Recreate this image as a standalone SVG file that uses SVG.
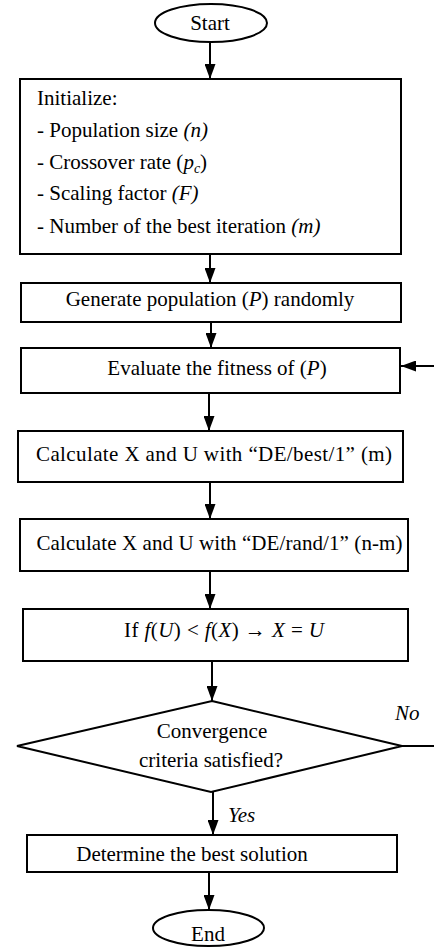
<svg xmlns="http://www.w3.org/2000/svg" width="434" height="951" viewBox="0 0 434 951">
<style>
.s{fill:#fff;stroke:#000;stroke-width:2}
text{font-family:'Liberation Serif','Times New Roman',serif;font-size:21px;fill:#000}
.m{text-anchor:middle}
.i{font-style:italic}
.c{fill:none;stroke:#000;stroke-width:2}
</style>
<defs>
<marker id="ah" markerUnits="userSpaceOnUse" markerWidth="15" markerHeight="11" refX="15" refY="5.5" orient="auto">
<path d="M0,0 L15,5.5 L0,11 z" fill="#000"/>
</marker>
</defs>
<rect width="434" height="951" fill="#fff"/>
<g id="connectors">
<line class="c" x1="210" y1="42" x2="210" y2="79" marker-end="url(#ah)"/>
<line class="c" x1="210" y1="254" x2="210" y2="283" marker-end="url(#ah)"/>
<line class="c" x1="211" y1="322" x2="211" y2="348" marker-end="url(#ah)"/>
<line class="c" x1="209" y1="394" x2="209" y2="431" marker-end="url(#ah)"/>
<line class="c" x1="210" y1="482" x2="210" y2="519" marker-end="url(#ah)"/>
<line class="c" x1="210" y1="571" x2="210" y2="609" marker-end="url(#ah)"/>
<line class="c" x1="212" y1="661" x2="212" y2="701" marker-end="url(#ah)"/>
<line class="c" x1="213" y1="792" x2="213" y2="835" marker-end="url(#ah)"/>
<line class="c" x1="209" y1="872" x2="209" y2="910" marker-end="url(#ah)"/>
<line class="c" x1="402" y1="746" x2="434" y2="746"/>
<line class="c" x1="434" y1="366" x2="401" y2="366" marker-end="url(#ah)"/>
<text class="i" x="395" y="720">No</text>
<text class="i" x="228" y="822">Yes</text>
</g>
<g id="start">
<ellipse class="s" cx="211" cy="23" rx="56" ry="19"/>
<text class="m" x="210" y="30">Start</text>
</g>
<g id="init">
<rect class="s" x="20" y="79" width="381" height="175"/>
<text x="37" y="105">Initialize:</text>
<text x="37" y="137">- Population size <tspan class="i">(n)</tspan></text>
<text x="37" y="169">- Crossover rate (<tspan class="i">p</tspan><tspan class="i" font-size="14" dy="4">c</tspan><tspan dy="-4">)</tspan></text>
<text x="37" y="200">- Scaling factor <tspan class="i">(F)</tspan></text>
<text x="37" y="233">- Number of the best iteration <tspan class="i">(m)</tspan></text>
</g>
<g id="generate">
<rect class="s" x="21" y="283" width="380" height="39"/>
<text class="m" x="210" y="306">Generate population (<tspan class="i">P</tspan>) randomly</text>
</g>
<g id="evaluate">
<rect class="s" x="21" y="348" width="379" height="45"/>
<text class="m" x="217" y="375">Evaluate the fitness of (<tspan class="i">P</tspan>)</text>
</g>
<g id="calc-best">
<rect class="s" x="18" y="431" width="385" height="51"/>
<text class="m" x="214" y="461" textLength="356" lengthAdjust="spacing">Calculate X and U with “DE/best/1” (m)</text>
</g>
<g id="calc-rand">
<rect class="s" x="20" y="519" width="388" height="52"/>
<text class="m" x="219.5" y="550" textLength="366" lengthAdjust="spacing">Calculate X and U with “DE/rand/1” (n-m)</text>
</g>
<g id="selection">
<rect class="s" x="23" y="609" width="385" height="52"/>
<text class="m" x="224" y="637" textLength="200" lengthAdjust="spacing">If  <tspan class="i">f</tspan>(<tspan class="i">U</tspan>) &lt; <tspan class="i">f</tspan>(<tspan class="i">X</tspan>) → <tspan class="i">X</tspan> = <tspan class="i">U</tspan></text>
</g>
<g id="decision">
<polygon class="s" points="212,701 402,746 211,792 17,746"/>
<text class="m" x="212" y="738">Convergence</text>
<text class="m" x="211" y="767">criteria satisfied?</text>
</g>
<g id="determine">
<rect class="s" x="27" y="835" width="370" height="37"/>
<text class="m" x="192" y="861">Determine the best solution</text>
</g>
<g id="end">
<ellipse class="s" cx="208.5" cy="928" rx="55.5" ry="18"/>
<text class="m" x="208" y="941">End</text>
</g>
</svg>
